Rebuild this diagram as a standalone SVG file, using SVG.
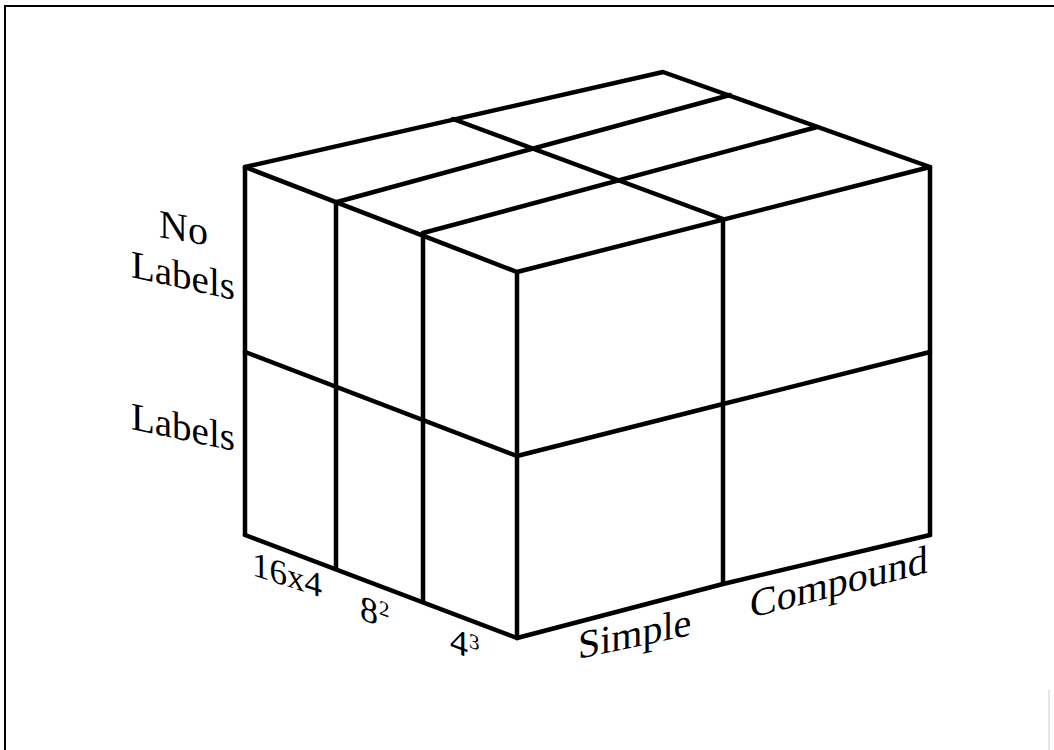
<svg xmlns="http://www.w3.org/2000/svg" width="1054" height="750" viewBox="0 0 1054 750">
<style>
.e{fill:none;stroke:#000;stroke-width:4.5;stroke-linecap:round;stroke-linejoin:round}
.t{font-family:"Liberation Serif","Times New Roman",serif;fill:#000}
</style>
<rect width="1054" height="750" fill="#fff"/>
<g id="frame">
<path d="M5,750 V6 H1054" fill="none" stroke="#000" stroke-width="2"/>
<path d="M1049,690 V750" fill="none" stroke="#ccc" stroke-width="1"/>
</g>
<g id="top-face" class="e">
<polygon points="245,167 663,72 930,167 517,272"/>
<line x1="337" y1="202" x2="730" y2="95"/>
<line x1="423" y1="233" x2="817" y2="127"/>
<line x1="453" y1="119" x2="723" y2="219"/>
</g>
<g id="left-face" class="e">
<line x1="245" y1="167" x2="245" y2="535"/>
<line x1="336" y1="202" x2="336" y2="568"/>
<line x1="423" y1="233" x2="423" y2="602"/>
<line x1="517" y1="272" x2="517" y2="638"/>
<line x1="245" y1="535" x2="517" y2="638"/>
<line x1="245" y1="352" x2="517" y2="456"/>
</g>
<g id="front-face" class="e">
<line x1="723" y1="219" x2="723" y2="584"/>
<line x1="930" y1="167" x2="930" y2="535"/>
<polyline points="517,638 723,584 930,535"/>
<polyline points="517,456 723,404 930,352"/>
</g>
<g id="labels" class="t">
<text transform="translate(159,237) skewY(10)" font-size="40">No</text>
<text transform="translate(131,277) skewY(12.5)" font-size="39">Labels</text>
<text transform="translate(131,429) skewY(12)" font-size="39">Labels</text>
<text transform="translate(252,575) skewY(18)" font-size="35">16x4</text>
<g transform="translate(360,619) skewY(20)">
<text font-size="36">8</text>
<text x="19" y="-12" font-size="21">2</text>
</g>
<g transform="translate(450,651) skewY(20)">
<text font-size="36">4</text>
<text x="19" y="-11" font-size="21">3</text>
</g>
<text transform="translate(578,659) skewY(-12)" font-size="40">Simple</text>
<text transform="translate(750,618) skewY(-14.4)" font-size="40">Compound</text>
</g>
</svg>
